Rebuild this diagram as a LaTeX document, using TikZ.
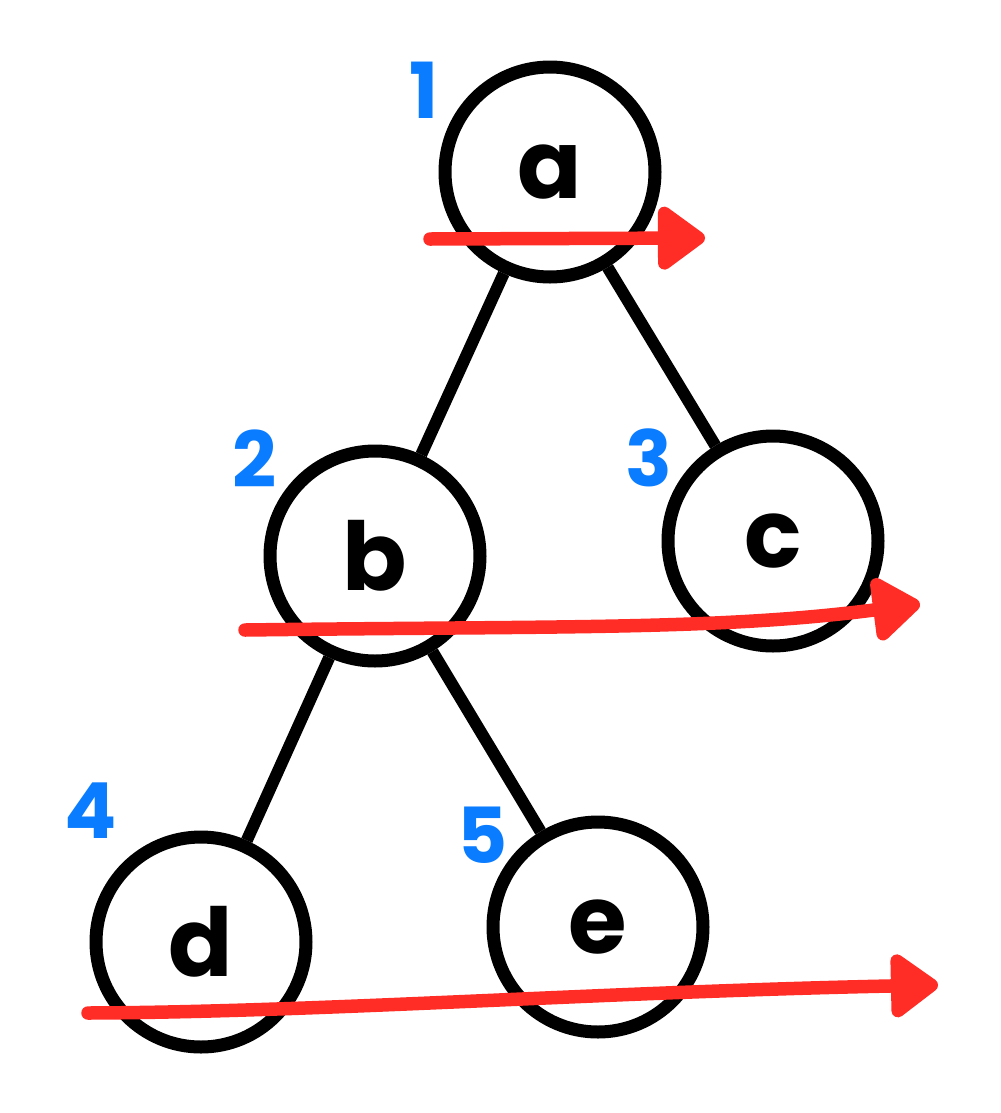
\documentclass[tikz,border=0pt]{standalone}
\usepackage{fontspec}
\setmainfont{Poppins}
\usetikzlibrary{arrows.meta}
\definecolor{inkred}{RGB}{255,45,38}
\definecolor{inkblue}{RGB}{10,124,255}
\tikzset{
  treenode/.style={circle,draw=black,line width=1.3mm,fill=white,minimum size=21mm,inner sep=0pt,
    font=\fontsize{27pt}{27pt}\selectfont\bfseries},
  treeedge/.style={draw=black,line width=1.2mm},
  ordernum/.style={text=inkblue,inner sep=0pt,font=\fontsize{22pt}{22pt}\selectfont\bfseries},
  sweep/.style={draw=inkred,line width=1.35mm,line cap=round,
    -{Triangle[length=5.2mm,width=7.2mm,round]}}
}
\begin{document}
\begin{tikzpicture}[x=0.1mm,y=-0.1mm]
\useasboundingbox (0,0) rectangle (1000,1113);
\node[treenode] (a) at (550,172) {a};
\node[treenode] (b) at (375,556) {b};
\node[treenode] (c) at (773,541) {c};
\node[treenode] (d) at (201,942) {d};
\node[treenode] (e) at (598,927) {e};
\draw[treeedge] (a) -- (b);
\draw[treeedge] (a) -- (c);
\draw[treeedge] (b) -- (d);
\draw[treeedge] (b) -- (e);
\node[ordernum] (n1) at (424,90) {1};
\node[ordernum] (n2) at (255,459) {2};
\node[ordernum] (n3) at (649,458) {3};
\node[ordernum] (n4) at (91,811) {4};
\node[ordernum] (n5) at (483,835) {5};
\coordinate (s1) at (430,239);
\coordinate (t1) at (705,238);
\coordinate (s2) at (245,630);
\coordinate (t2) at (920,604);
\coordinate (s3) at (88,1013);
\coordinate (t3) at (938,985);
\draw[sweep] (s1) -- (t1);
\draw[sweep] (s2) .. controls (560,626) and (720,630) .. (t2);
\draw[sweep] (s3) .. controls (320,1012) and (600,992) .. (t3);
\end{tikzpicture}
\end{document}
